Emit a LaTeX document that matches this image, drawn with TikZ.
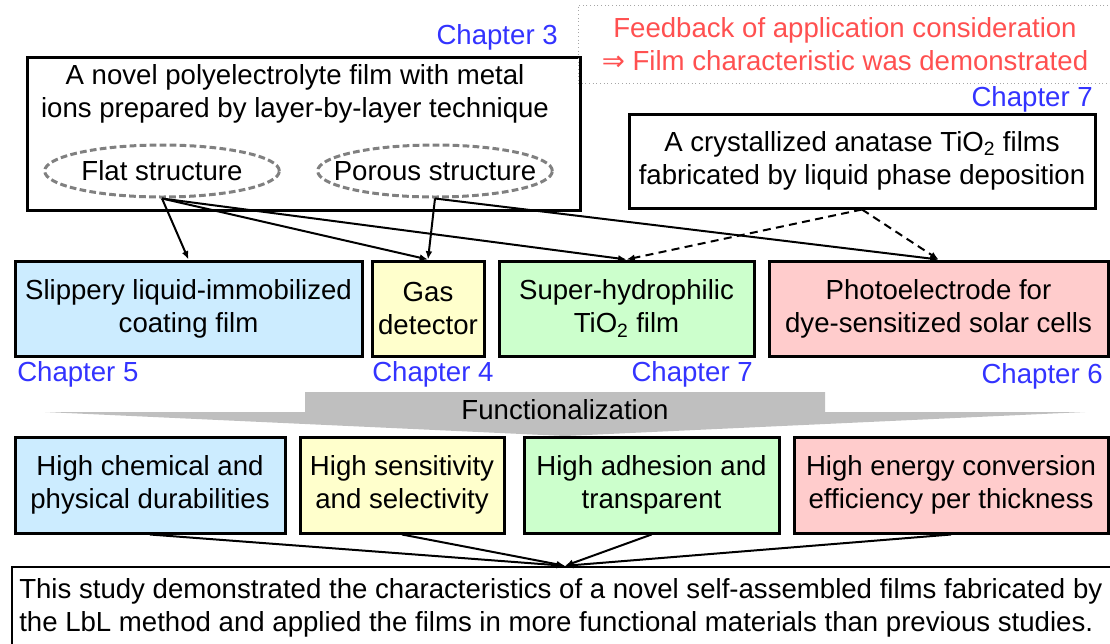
\documentclass[tikz,border=0pt]{standalone}
\usepackage{fontspec}
\setmainfont{Liberation Sans}
\newfontfamily\arrowfont{DejaVu Sans}
\usepackage{xcolor}
\usetikzlibrary{shapes.geometric, arrows.meta, positioning}

\definecolor{chapblue}{HTML}{3333FF}
\definecolor{fbred}{HTML}{FF5050}
\definecolor{fillblue}{HTML}{CCECFF}
\definecolor{fillyellow}{HTML}{FFFFCC}
\definecolor{fillgreen}{HTML}{CCFFCC}
\definecolor{fillred}{HTML}{FFCCCC}
\definecolor{funcgray}{HTML}{BFBFBF}
\newcommand{\bodysize}{\fontsize{20.7}{24.75}\selectfont}

\begin{document}
\begin{tikzpicture}[
    x=0.75pt, y=-0.75pt,
    txt/.style={align=center, font=\bodysize, inner sep=0pt},
    chap/.style={font=\bodysize, text=chapblue, inner sep=0pt},
    filmbox/.style={rectangle, draw=black, line width=2.25pt, inner sep=0pt},
    appbox/.style={rectangle, draw=black, line width=2.25pt, align=center, font=\bodysize, minimum height=71.25pt, inner sep=0pt},
    structnode/.style={ellipse, draw=gray, dash pattern=on 5pt off 2.5pt, line width=2.25pt, minimum width=176pt, minimum height=39pt, font=\bodysize, inner xsep=-15pt, inner ysep=0pt},
    linkedge/.style={-{Latex[length=2.2mm, width=1.8mm]}, line width=1.5pt},
    tioedge/.style={-{Latex[length=2.2mm, width=1.8mm]}, line width=1.5pt, dash pattern=on 6pt off 4pt}
  ]
  \path[use as bounding box, clip] (0,0) rectangle (1110,643);

  % Starting films
  \node[filmbox, minimum width=414.75pt, minimum height=114.75pt] (lbl) at (303.5,133.5) {};
  \node[txt] (lbltext) at (295,94) {A novel polyelectrolyte film with metal\\ions prepared by layer-by-layer technique};
  \node[structnode] (flat) at (162,171) {Flat structure};
  \node[structnode] (porous) at (435,171) {Porous structure};
  \node[chap, anchor=east] (ch3) at (558,37) {Chapter 3};

  \node[rectangle, draw=gray!70, dotted, line width=0.75pt, minimum width=400.5pt, minimum height=58.5pt] (feedback) at (845,44) {};
  \node[txt, text=fbred] (fbtext) at (feedback.center) {Feedback of application consideration\\{\arrowfont ⇒} Film characteristic was demonstrated};

  \node[filmbox, minimum width=349.5pt, minimum height=70.5pt, align=center, font=\bodysize] (lpd) at (862,161) {A crystallized anatase TiO\textsubscript{2} films\\fabricated by liquid phase deposition};
  \node[chap, anchor=east] (ch7a) at (1093,99) {Chapter 7};

  % Applications
  \node[appbox, fill=fillblue, minimum width=260.25pt] (slippery) at (188.5,308.5) {Slippery liquid-immobilized\\coating film};
  \node[appbox, fill=fillyellow, minimum width=84pt] (gas) at (428,308.5) {Gas\\detector};
  \node[appbox, fill=fillgreen, minimum width=191.25pt] (hydro) at (626.5,308.5) {Super-hydrophilic\\TiO\textsubscript{2} film};
  \node[appbox, fill=fillred, minimum width=254.25pt] (dssc) at (938.5,308.5) {Photoelectrode for\\dye-sensitized solar cells};

  \node[chap, anchor=west] (ch5) at (17,374) {Chapter 5};
  \node[chap, anchor=west] (ch4) at (372,374) {Chapter 4};
  \node[chap, anchor=east] (ch7b) at (753,374) {Chapter 7};
  \node[chap, anchor=east] (ch6) at (1103,376) {Chapter 6};

  % Edges to applications
  \draw[linkedge] (flat.south) -- (slippery.north);
  \draw[linkedge] (flat.south) -- (gas.north);
  \draw[linkedge] (flat.south) -- (hydro.north);
  \draw[linkedge] (porous.south) -- (gas.north);
  \draw[linkedge] (porous.south) -- (dssc.north);
  \draw[tioedge] (lpd.south) -- (hydro.north);
  \draw[tioedge] (lpd.south) -- (dssc.north);

  % Functionalization arrow
  \fill[funcgray] (45,412) -- (305,412) -- (305,392) -- (825,392) -- (825,412) -- (1085,412) -- (565,436) -- cycle;
  \node[txt] (func) at (565,410) {Functionalization};

  % Properties
  \node[appbox, fill=fillblue, minimum width=202.5pt, minimum height=72pt] (durable) at (150,485) {High chemical and\\physical durabilities};
  \node[appbox, fill=fillyellow, minimum width=153pt, minimum height=72pt] (sensitive) at (402,485) {High sensitivity\\and selectivity};
  \node[appbox, fill=fillgreen, minimum width=191.25pt, minimum height=72pt] (adhesion) at (651.5,485) {High adhesion and\\transparent};
  \node[appbox, fill=fillred, minimum width=235.5pt, minimum height=72pt] (efficiency) at (951,485) {High energy conversion\\efficiency per thickness};

  \node[rectangle, draw=black, line width=1.8pt, minimum width=829.5pt, minimum height=62.25pt] (study) at (565,608.5) {};
  \node[txt, align=left, anchor=west] (studytext) at (19,608) {This study demonstrated the characteristics of a novel self-assembled films fabricated by\\the LbL method and applied the films in more functional materials than previous studies.};

  \foreach \src in {durable, sensitive, adhesion, efficiency}
    \draw[linkedge] (\src.south) -- (study.north);

\end{tikzpicture}
\end{document}
